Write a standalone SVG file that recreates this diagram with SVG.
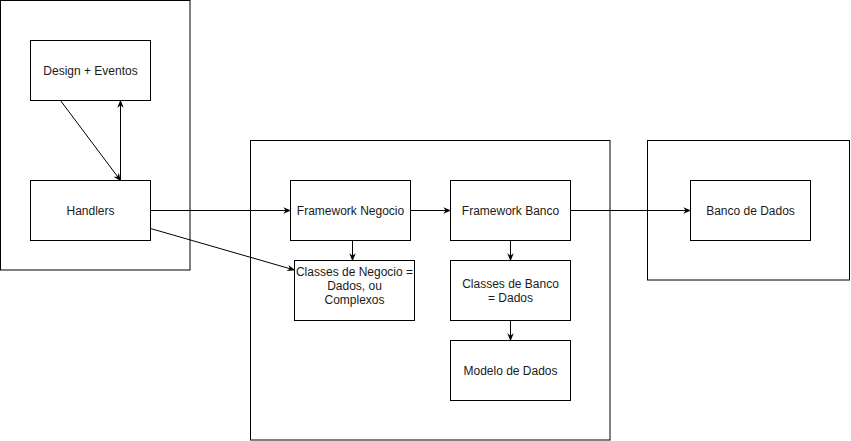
<svg xmlns="http://www.w3.org/2000/svg" width="851" height="441" viewBox="0 0 851 441">
<style>
.box{fill:#fff;stroke:#000;stroke-width:1}
.t{font-family:"Liberation Sans",Arial,sans-serif;font-size:12px;fill:#1a1a1a;text-anchor:middle}
.c{fill:none;stroke:#000;stroke-width:1}
</style>
<defs>
<marker id="a" viewBox="0 0 10 10" refX="9" refY="5" markerWidth="8" markerHeight="8" markerUnits="userSpaceOnUse" orient="auto">
<path d="M0,1 L10,5 L0,9 L3,5 Z" fill="#000"/>
</marker>
</defs>
<rect width="851" height="441" fill="#fff"/>
<g id="container-left"><rect class="box" x="0.5" y="0.5" width="189.5" height="269.5"/></g>
<g id="container-mid"><rect class="box" x="250.5" y="140.5" width="359.5" height="299.5"/></g>
<g id="container-right"><rect class="box" x="647.5" y="140.5" width="202" height="139.5"/></g>
<g id="design"><rect class="box" x="30.5" y="40.5" width="120" height="60"/><text class="t" x="90.5" y="75">Design + Eventos</text></g>
<g id="handlers"><rect class="box" x="30.5" y="180.5" width="120" height="60"/><text class="t" x="90.5" y="215">Handlers</text></g>
<g id="fw-negocio"><rect class="box" x="290.5" y="180.5" width="120" height="60"/><text class="t" x="350.5" y="215">Framework Negocio</text></g>
<g id="classes-negocio"><rect class="box" x="294.5" y="260.5" width="120" height="60"/><text class="t" x="354.5" y="276">Classes de Negocio =</text><text class="t" x="354.5" y="290">Dados, ou</text><text class="t" x="354.5" y="304">Complexos</text></g>
<g id="fw-banco"><rect class="box" x="450.5" y="180.5" width="120" height="60"/><text class="t" x="510.5" y="215">Framework Banco</text></g>
<g id="classes-banco"><rect class="box" x="450.5" y="260.5" width="120" height="60"/><text class="t" x="510.5" y="288">Classes de Banco</text><text class="t" x="510.5" y="302">= Dados</text></g>
<g id="modelo"><rect class="box" x="450.5" y="340.5" width="120" height="60"/><text class="t" x="510.5" y="375">Modelo de Dados</text></g>
<g id="banco-dados"><rect class="box" x="690.5" y="180.5" width="120" height="60"/><text class="t" x="750.5" y="215">Banco de Dados</text></g>
<g id="connectors">
<path class="c" d="M60.5,100.5 L120.5,180.5" marker-end="url(#a)"/>
<path class="c" d="M120.5,180.5 L120.5,100.5" marker-end="url(#a)"/>
<path class="c" d="M150.5,210.5 L290.5,210.5" marker-end="url(#a)"/>
<path class="c" d="M150.5,228.5 L294.5,270" marker-end="url(#a)"/>
<path class="c" d="M352.5,240.5 L352.5,260.5" marker-end="url(#a)"/>
<path class="c" d="M410.5,210.5 L450.5,210.5" marker-end="url(#a)"/>
<path class="c" d="M510.5,240.5 L510.5,260.5" marker-end="url(#a)"/>
<path class="c" d="M510.5,320.5 L510.5,340.5" marker-end="url(#a)"/>
<path class="c" d="M570.5,210.5 L690.5,210.5" marker-end="url(#a)"/>
</g>
</svg>
